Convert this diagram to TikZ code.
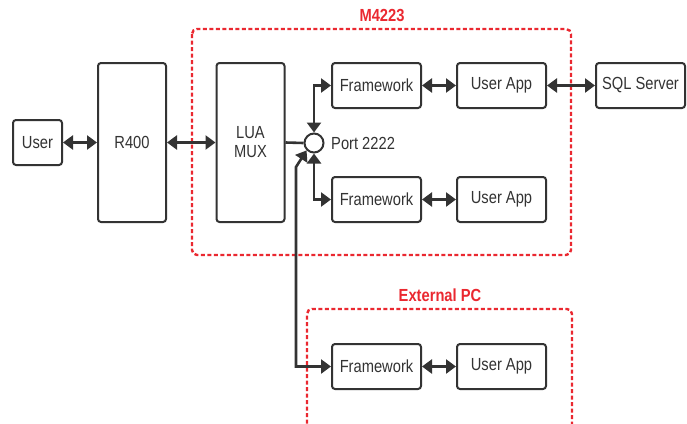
\documentclass[tikz,border=0pt]{standalone}
\usepackage{fontspec}
\setmainfont{Liberation Sans}[FakeStretch=0.84]
\usepackage{tikz}
\usetikzlibrary{arrows.meta, positioning, calc}
\definecolor{boxgray}{RGB}{51,51,51}
\definecolor{dashred}{RGB}{234,40,48}

\tikzset{
  block/.style={draw=boxgray, line width=2pt, rounded corners=3pt, fill=white,
    minimum width=89pt, minimum height=45pt, inner sep=0pt, font=\fontsize{17.5}{19}\selectfont, text=boxgray},
  tallblock/.style={block, minimum width=68pt, minimum height=159pt},
  biarrow/.style={draw=boxgray, line width=2.6pt, {Triangle[length=10pt,width=14pt]}-{Triangle[length=10pt,width=14pt]}},
  link/.style={draw=boxgray, line width=2.6pt},
  zone/.style={draw=dashred, line width=2.4pt, dash pattern=on 4pt off 2.5pt, rounded corners=5pt},
  zonelabel/.style={text=dashred, font=\fontsize{17.5}{19}\selectfont\bfseries}
}

\begin{document}
\begin{tikzpicture}[x=1pt, y=-1pt]
  \useasboundingbox (0,0) rectangle (687,423);
  \clip (0,0) rectangle (687,423);

  % Containers
  \draw[zone] (192,29) rectangle (571,255);
  \node[zonelabel] (m4223) at (382,15) {M4223};
  \draw[zone] (307,430) -- (307,309) -- (572,309) -- (572,430);
  \node[zonelabel] (extpc) at (440,295) {External PC};

  % Left chain
  \node[block, minimum width=49pt] (user) at (37.5,142.5) {User};
  \node[tallblock] (r400) at (132,142.5) {R400};
  \node[tallblock, align=center] (lua) at (250.5,142.5) {LUA\\MUX};

  % Port
  \node[draw=boxgray, line width=2pt, circle, minimum size=19pt, inner sep=0pt] (port) at (314,143) {};
  \node[anchor=west, font=\fontsize{17.5}{19}\selectfont, text=boxgray, inner sep=0pt] (portlbl) at (331,143) {Port 2222};

  % Apps on M4223
  \node[block] (fwa) at (376.5,85.5) {Framework};
  \node[block] (appa) at (501.5,85.5) {User App};
  \node[block] (sql) at (640.5,85.5) {SQL Server};
  \node[block] (fwb) at (376.5,199.5) {Framework};
  \node[block] (appb) at (501.5,199.5) {User App};

  % Apps on external PC
  \node[block] (fwc) at (376.5,366.5) {Framework};
  \node[block] (appc) at (501.5,366.5) {User App};

  % Connectors
  \draw[biarrow] (user) -- (r400);
  \draw[biarrow] (r400) -- (lua);
  \draw[link] (lua.east) -- (port.west);
  \draw[biarrow] (port.north) |- (fwa.west);
  \draw[biarrow] (port.south) |- (fwb.west);
  \draw[biarrow] (fwa) -- (appa);
  \draw[biarrow] (appa) -- (sql);
  \draw[biarrow] (fwb) -- (appb);
  \coordinate (bend) at (296,167);
  \draw[biarrow] (port.south west) -- (bend) |- (fwc.west);
  \draw[biarrow] (fwc) -- (appc);
\end{tikzpicture}
\end{document}
